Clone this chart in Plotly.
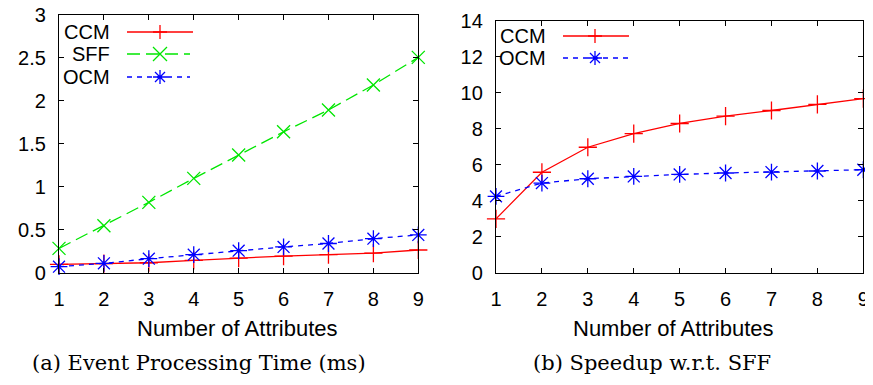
import plotly.graph_objects as go

attributes = [1, 2, 3, 4, 5, 6, 7, 8, 9]
time_ccm = [0.097, 0.105, 0.116, 0.144, 0.170, 0.194, 0.210, 0.229, 0.264]
time_sff = [0.283, 0.547, 0.819, 1.098, 1.370, 1.640, 1.894, 2.185, 2.507]
time_ocm = [0.070, 0.109, 0.163, 0.210, 0.256, 0.300, 0.340, 0.396, 0.440]
speed_ccm = [2.99, 5.58, 6.97, 7.73, 8.29, 8.70, 9.01, 9.35, 9.67]
speed_ocm = [4.24, 4.98, 5.22, 5.35, 5.46, 5.54, 5.59, 5.65, 5.72]

OFF = 8  # page body margin
W, H = 873 - OFF, 385 - OFF
RED, GREEN, BLUE = "#ff0000", "#00e600", "#0000ff"
SANS = "Liberation Sans, Arial, sans-serif"
SERIF = "DejaVu Serif, Liberation Serif, serif"


def px(x):
    return (x - OFF) / W


def py(y):
    return 1 - (y - OFF) / H


fig = go.Figure()

styles = {
    "CCM": dict(color=RED, dash="solid", symbol="cross-thin", size=13),
    "SFF": dict(color=GREEN, dash="13px,6px", symbol="x-thin", size=13),
    "OCM": dict(color=BLUE, dash="5px,5px", symbol="asterisk-open", size=14),
}


def add(name, y, xa, ya):
    s = styles[name]
    fig.add_trace(go.Scatter(
        x=attributes, y=y, name=name, xaxis=xa, yaxis=ya, mode="lines+markers",
        line=dict(color=s["color"], width=1.3, dash=s["dash"]),
        marker=dict(symbol=s["symbol"], size=s["size"],
                    line=dict(color=s["color"], width=1.3)),
        showlegend=False, cliponaxis=False))


add("CCM", time_ccm, "x", "y")
add("SFF", time_sff, "x", "y")
add("OCM", time_ocm, "x", "y")
add("CCM", speed_ccm, "x2", "y2")
add("OCM", speed_ocm, "x2", "y2")

axis_common = dict(showline=True, linecolor="black", linewidth=1.3, mirror="ticks",
                   ticks="inside", ticklen=5, tickcolor="black", tickwidth=1,
                   showgrid=False, zeroline=False, automargin=False,
                   ticklabeloverflow="allow")
xfont = dict(family=SANS, size=20, color="black")
yfont = dict(family=SANS, size=20, color="black")

fig.update_layout(
    width=W, height=H, margin=dict(l=0, r=0, t=0, b=0, autoexpand=False),
    autosize=False,
    plot_bgcolor="white", paper_bgcolor="white",
    xaxis=dict(domain=[px(59), px(418.3)], range=[1, 9], dtick=1, anchor="y",
               tickfont=xfont, ticklabelstandoff=8, **axis_common),
    yaxis=dict(domain=[py(272.7), py(15)], range=[0, 3], dtick=0.5, anchor="x",
               tickfont=yfont, ticklabelstandoff=8, **axis_common),
    xaxis2=dict(domain=[px(496), px(863.3)], range=[1, 9], dtick=1, anchor="y2",
                tickfont=xfont, ticklabelstandoff=8, **axis_common),
    yaxis2=dict(domain=[py(272.7), py(20.7)], range=[0, 14], dtick=2, anchor="x2",
                tickfont=yfont, ticklabelstandoff=8, **axis_common),
)

ann = []
shapes = []


def text(x, y, s, family, size, xanchor="center"):
    ann.append(dict(x=px(x), y=py(y), text=s, showarrow=False, xref="paper", yref="paper",
                    xanchor=xanchor, yanchor="middle",
                    font=dict(family=family, size=size, color="black")))


text(238, 328, "Number of Attributes", SANS, 22)
text(673, 328, "Number of Attributes", SANS, 22)
text(199, 363, "(a) Event Processing Time (ms)", SERIF, 21)
text(652, 363, "(b) Speedup w.r.t. SFF", SERIF, 21)


def legend_entry(name, text_right, yrow, x0, x1, xm):
    s = styles[name]
    text(text_right, yrow, name, SANS, 20, xanchor="right")
    shapes.append(dict(type="line", xref="paper", yref="paper",
                       x0=px(x0), x1=px(x1), y0=py(yrow), y1=py(yrow),
                       line=dict(color=s["color"], width=1.3, dash=s["dash"])))
    r = 7
    d = 5
    if name == "CCM":
        path = f"M{-r},0 H{r} M0,{-r} V{r}"
    elif name == "SFF":
        path = f"M{-r},{-r} L{r},{r} M{-r},{r} L{r},{-r}"
    else:
        path = f"M{-r},0 H{r} M0,{-r} V{r} M{-d},{-d} L{d},{d} M{-d},{d} L{d},{-d}"
    shapes.append(dict(type="path", xref="paper", yref="paper",
                       xsizemode="pixel", ysizemode="pixel",
                       xanchor=px(xm), yanchor=py(yrow), path=path,
                       line=dict(color=s["color"], width=1.3)))


legend_entry("CCM", 112, 32, 127, 193, 160)
legend_entry("SFF", 112, 54, 127, 190, 160)
legend_entry("OCM", 112, 77, 127, 190, 160)
legend_entry("CCM", 548, 36, 563, 629, 595)
legend_entry("OCM", 548, 58, 563, 629, 595)

fig.update_layout(annotations=ann, shapes=shapes)
fig.write_html("out.html")
